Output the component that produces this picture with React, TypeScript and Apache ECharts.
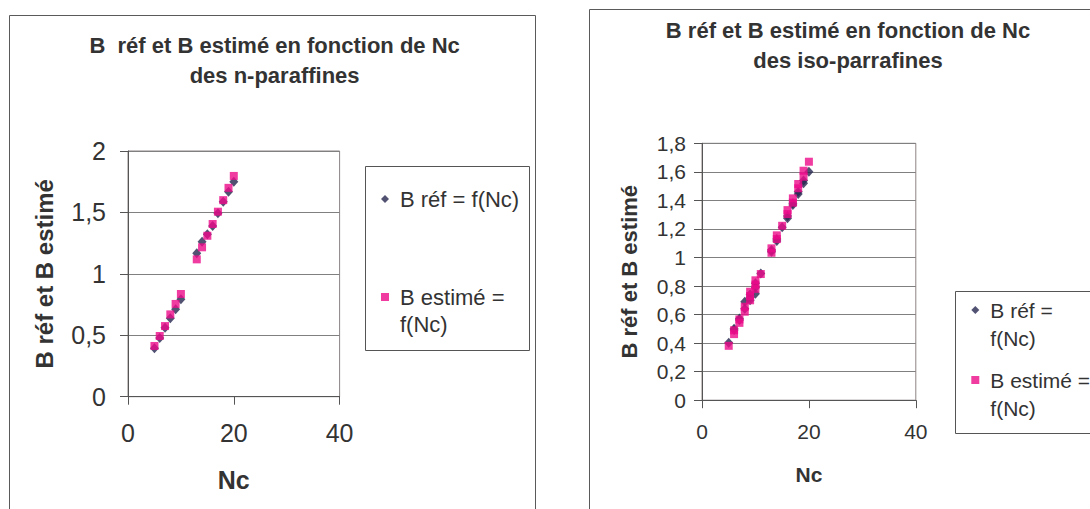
import React, { useEffect, useRef } from "react";
import * as echarts from "echarts";

// ---- Data: n-paraffines (left chart) ----
const nParNc = [5, 6, 7, 8, 9, 10, 13, 14, 15, 16, 17, 18, 19, 20];
const nParBRef = [0.394, 0.478, 0.562, 0.638, 0.711, 0.793, 1.167, 1.262, 1.322, 1.39, 1.493, 1.587, 1.669, 1.75];
const nParBEst = [0.413, 0.494, 0.575, 0.67, 0.755, 0.836, 1.118, 1.216, 1.31, 1.406, 1.506, 1.6, 1.7, 1.797];

// ---- Data: iso-paraffines (right chart) ----
const isoNc = [5, 6, 6, 7, 7, 8, 8, 9, 9, 9, 10, 10, 10, 11, 13, 13, 14, 14, 15, 16, 16, 17, 17, 18, 18, 19, 19, 20];
const isoBRef = [0.402, 0.491, 0.5, 0.562, 0.573, 0.64, 0.69, 0.7, 0.72, 0.74, 0.745, 0.79, 0.82, 0.888, 1.04, 1.052, 1.115, 1.13, 1.211, 1.274, 1.29, 1.367, 1.38, 1.445, 1.46, 1.52, 1.54, 1.601];
const isoBEst = [0.381, 0.463, 0.49, 0.542, 0.566, 0.62, 0.655, 0.7, 0.73, 0.76, 0.78, 0.81, 0.84, 0.884, 1.033, 1.064, 1.129, 1.155, 1.222, 1.304, 1.332, 1.384, 1.414, 1.485, 1.515, 1.566, 1.608, 1.671];

// ---- Texts ----
const titleLeft = "B  réf et B estimé en fonction de Nc\ndes n-paraffines";
const titleRight = "B réf et B estimé en fonction de Nc\ndes iso-parrafines";
const yName = "B réf et B estimé";
const xName = "Nc";
const refName = "B réf = f(Nc)";
const estName = "B estimé = f(Nc)";

const FONT = '"Liberation Sans", Arial, sans-serif';
const TXT = "#333333";
const AXIS = "#555555";
const GRIDC = "#808080";
const NAVY = "#26264f";
const PINK = "#EC0A8A";

const comma = (v: number) => String(v).replace(".", ",");

export default function App() {
  const ref = useRef<HTMLDivElement>(null);
  useEffect(() => {
    document.body.style.margin = "0";
    if (!ref.current) return;
    const chart = echarts.init(ref.current, undefined, { renderer: "svg" });

    const axisCommon = (fs: number, margin: number) => ({
      axisLine: { show: true, onZero: false, lineStyle: { color: AXIS, width: 1 } },
      axisTick: { show: true, length: 8, lineStyle: { color: AXIS } },
      axisLabel: { fontSize: fs, color: TXT, margin, fontFamily: FONT },
    });

    const legendItem = (
      left: number, top: number, name: string, icon: string, text: string,
      fs: number, lh: number, size: number, pad: number
    ) => ({
      orient: "vertical",
      left,
      top,
      padding: 0,
      itemWidth: size,
      itemHeight: size,
      selectedMode: false,
      data: [{ name, icon }],
      formatter: () => text,
      textStyle: { fontSize: fs, color: TXT, fontFamily: FONT, lineHeight: lh, padding: [0, 0, 0, pad] },
    });

    chart.setOption({
      animation: false,
      textStyle: { fontFamily: FONT },
      grid: [
        { left: 128, top: 151, width: 211.6, height: 245.7, show: true, borderColor: "#8c8484", borderWidth: 1 },
        { left: 702, top: 143.3, width: 213.8, height: 256.9, show: true, borderColor: "#8c8484", borderWidth: 1 },
      ],
      xAxis: [
        {
          gridIndex: 0, type: "value", min: 0, max: 40, interval: 20,
          ...axisCommon(25, 24),
          splitLine: { show: false },
          name: xName, nameLocation: "middle", nameGap: 71,
          nameTextStyle: { fontSize: 25, fontWeight: "bold", color: TXT, fontFamily: FONT },
        },
        {
          gridIndex: 1, type: "value", min: 0, max: 40, interval: 20,
          ...axisCommon(21, 21),
          splitLine: { show: false },
          name: xName, nameLocation: "middle", nameGap: 64,
          nameTextStyle: { fontSize: 21, fontWeight: "bold", color: TXT, fontFamily: FONT },
        },
      ],
      yAxis: [
        {
          gridIndex: 0, type: "value", min: 0, max: 2, interval: 0.5,
          ...axisCommon(25, 22),
          axisLabel: { fontSize: 25, color: TXT, margin: 22, fontFamily: FONT, formatter: comma },
          splitLine: { show: true, lineStyle: { color: GRIDC, width: 1 } },
          name: yName, nameLocation: "middle", nameGap: 72,
          nameTextStyle: { fontSize: 24, fontWeight: "bold", color: TXT, fontFamily: FONT },
        },
        {
          gridIndex: 1, type: "value", min: 0, max: 1.8, interval: 0.2,
          ...axisCommon(21, 16),
          axisLabel: { fontSize: 21, color: TXT, margin: 16, fontFamily: FONT, formatter: comma },
          splitLine: { show: true, lineStyle: { color: GRIDC, width: 1 } },
          name: yName, nameLocation: "middle", nameGap: 62,
          nameTextStyle: { fontSize: 22, fontWeight: "bold", color: TXT, fontFamily: FONT },
        },
      ],
      legend: [
        legendItem(381, 185.5, refName, "diamond", "B réf = f(Nc)", 22, 27, 8, 6),
        legendItem(381, 256.5, estName, "rect", "\nB estimé =\nf(Nc)", 22, 27, 8, 6),
        legendItem(971.3, 268, refName, "diamond", "\nB réf =\nf(Nc)", 21, 28, 8, 6),
        legendItem(971.3, 338, estName, "rect", "\nB estimé =\nf(Nc)", 21, 28, 8, 6),
      ],
      graphic: [
        { type: "rect", shape: { x: 9.5, y: 15.5, width: 526, height: 520 }, style: { fill: "none", stroke: "#5a5a5a", lineWidth: 1 }, silent: true },
        { type: "rect", shape: { x: 589.5, y: 9.5, width: 520, height: 520 }, style: { fill: "none", stroke: "#5a5a5a", lineWidth: 1 }, silent: true },
        { type: "rect", shape: { x: 365.5, y: 166.5, width: 164, height: 184 }, style: { fill: "none", stroke: "#555", lineWidth: 1 }, silent: true },
        { type: "rect", shape: { x: 955.5, y: 291.5, width: 160, height: 142 }, style: { fill: "none", stroke: "#555", lineWidth: 1 }, silent: true },
        {
          type: "text", x: 274.6, y: 60,
          style: { text: titleLeft, align: "center", verticalAlign: "middle", fontSize: 22, fontWeight: "bold", fill: TXT, fontFamily: FONT, lineHeight: 30 },
        },
        {
          type: "text", x: 848, y: 45.8,
          style: { text: titleRight, align: "center", verticalAlign: "middle", fontSize: 22, fontWeight: "bold", fill: TXT, fontFamily: FONT, lineHeight: 30 },
        },
      ],
      series: [
        {
          type: "scatter", name: refName, xAxisIndex: 0, yAxisIndex: 0,
          symbol: "diamond", symbolSize: [9, 10], itemStyle: { color: NAVY },
          data: nParNc.map((x, i) => [x, nParBRef[i]]),
        },
        {
          type: "scatter", name: estName, xAxisIndex: 0, yAxisIndex: 0,
          symbol: "rect", symbolSize: 8, itemStyle: { color: PINK },
          data: nParNc.map((x, i) => [x, nParBEst[i]]),
        },
        {
          type: "scatter", name: refName, xAxisIndex: 1, yAxisIndex: 1,
          symbol: "diamond", symbolSize: [9, 10], itemStyle: { color: NAVY },
          data: isoNc.map((x, i) => [x, isoBRef[i]]),
        },
        {
          type: "scatter", name: estName, xAxisIndex: 1, yAxisIndex: 1,
          symbol: "rect", symbolSize: 8, itemStyle: { color: PINK },
          data: isoNc.map((x, i) => [x, isoBEst[i]]),
        },
      ],
    });
    return () => chart.dispose();
  }, []);
  return <div ref={ref} style={{ width: 1090, height: 509, background: "#fff" }} />;
}
